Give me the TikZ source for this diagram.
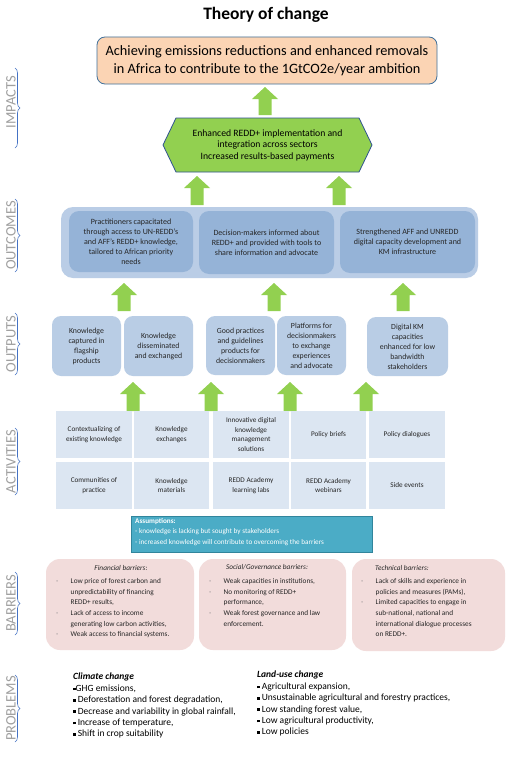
\documentclass[tikz,border=0pt]{standalone}
\usepackage{fontspec}
\setmainfont{Carlito}
\usetikzlibrary{decorations.pathreplacing}
\definecolor{peach}{HTML}{FBD4B4}
\definecolor{impborder}{HTML}{41719C}
\definecolor{hexgreen}{HTML}{92D050}
\definecolor{hexborder}{HTML}{2F528F}
\definecolor{arrgreen}{HTML}{92D050}
\definecolor{outcol}{HTML}{BACDE6}
\definecolor{outin}{HTML}{95B3D7}
\definecolor{outputcol}{HTML}{B9CDE5}
\definecolor{actcol}{HTML}{DCE6F2}
\definecolor{asscol}{HTML}{4BACC6}
\definecolor{assborder}{HTML}{31859C}
\definecolor{barcol}{HTML}{F2DCDB}
\definecolor{labgray}{HTML}{A0A0A0}
\definecolor{braceblue}{HTML}{4472C4}
\definecolor{txt}{HTML}{262626}
\definecolor{dashgray}{HTML}{808080}
\newcommand\garrow[3]{%
  \fill[arrgreen] (#1-6.5,#3) -- (#1-6.5,#2+12) -- (#1-13,#2+12) -- (#1,#2) -- (#1+13,#2+12) -- (#1+6.5,#2+12) -- (#1+6.5,#3) -- cycle;}
\newcommand\bl[1]{\makebox[14.5pt][l]{\textcolor{dashgray}{-}}#1}
\newcommand\cl[1]{\hspace*{14.5pt}#1}
\newcommand\sqb{\raisebox{0.25ex}{\rule{2.5pt}{2.5pt}}}
\begin{document}
\begin{tikzpicture}[x=1pt,y=-1pt]
\tikzset{
  impactbox/.style={draw=impborder, fill=peach, rounded corners=8pt, line width=0.8pt, align=center, text=black, font=\fontsize{14.3}{18}\selectfont, inner sep=0pt},
  outerbox/.style={fill=outcol, rounded corners=12pt, inner sep=0pt},
  outcomebox/.style={fill=outin, rounded corners=10pt, align=center, text=txt, font=\fontsize{8}{10}\selectfont, inner sep=0pt},
  outputbox/.style={fill=outputcol, rounded corners=9pt, align=center, text=txt, font=\fontsize{7.8}{10}\selectfont, inner sep=0pt},
  actbox/.style={fill=actcol, align=center, text=txt, font=\fontsize{7.2}{9.6}\selectfont, inner sep=0pt},
  barbox/.style={fill=barcol, rounded corners=14pt, inner sep=0pt},
  bartext/.style={align=left, text=txt, font=\fontsize{7.3}{10.6}\selectfont, inner sep=0pt, anchor=north west},
  barhead/.style={text=txt, font=\fontsize{7.3}{10.6}\selectfont\itshape, inner sep=0pt},
  probtext/.style={align=left, text=black, font=\fontsize{9.5}{11.4}\selectfont, inner sep=0pt, anchor=north west},
  lab/.style={text=labgray, font=\fontsize{14.5}{14.5}\selectfont, rotate=90, inner sep=0pt},
  brc/.style={draw=braceblue, decorate, decoration={brace, amplitude=5pt}, line width=0.6pt},
}
\useasboundingbox (0,0) rectangle (512,768);
\fill[white] (0,0) rectangle (512,768);

% title
\node[font=\fontsize{17.5}{19}\selectfont\bfseries] (title) at (266,15) {Theory of change};

% impact
\node[impactbox, minimum width=340, minimum height=47] (impact) at (267,60.5)
  {Achieving emissions reductions and enhanced removals\\in Africa to contribute to the 1GtCO2e/year ambition};
\garrow{265}{87}{115}

% hexagon
\draw[fill=hexgreen, draw=hexborder, line width=0.8pt]
  (163,145) -- (176,118) -- (359,118) -- (372,145) -- (359,172) -- (176,172) -- cycle;
\node[align=center, text=black, font=\fontsize{9.7}{11.5}\selectfont] (hex) at (267.5,145)
  {Enhanced REDD+ implementation and\\integration across sectors\\Increased results-based payments};
\garrow{197}{176}{205}
\garrow{339}{176}{205}

% outcomes
\node[outerbox, minimum width=417, minimum height=71] (outcomes) at (269.5,242.5) {};
\node[outcomebox, minimum width=124, minimum height=61] (oc1) at (131,241.5)
  {Practitioners capacitated\\through access to UN-REDD’s\\and AFF’s REDD+ knowledge,\\tailored to African priority\\needs};
\node[outcomebox, minimum width=135, minimum height=63] (oc2) at (266.5,242.5)
  {Decision-makers informed about\\REDD+ and provided with tools to\\share information and advocate};
\node[outcomebox, minimum width=135, minimum height=62] (oc3) at (407.5,242)
  {Strengthened AFF and UNREDD\\digital capacity development and\\KM infrastructure};
\garrow{124}{283}{311}
\garrow{274}{283}{311}
\garrow{403}{283}{311}

% outputs
\node[outputbox, minimum width=69, minimum height=60] (op1) at (86.5,346) {Knowledge\\captured in\\flagship\\products};
\node[outputbox, minimum width=69, minimum height=60] (op2) at (158.5,346) {Knowledge\\disseminated\\and exchanged};
\node[outputbox, minimum width=69, minimum height=59] (op3) at (240.5,345.5) {Good practices\\and guidelines\\products for\\decisionmakers};
\node[outputbox, minimum width=69, minimum height=59] (op4) at (311.5,345.5) {Platforms for\\decisionmakers\\to exchange\\experiences\\and advocate};
\node[outputbox, minimum width=81, minimum height=59] (op5) at (407.5,346.5) {Digital KM\\capacities\\enhanced for low\\bandwidth\\stakeholders};
\garrow{133}{382}{411}
\garrow{211}{382}{411}
\garrow{290}{382}{411}
\garrow{366}{382}{411}

% activities
\node[actbox, minimum width=76, minimum height=47] (a11) at (94,434.5) {Contextualizing of\\existing knowledge};
\node[actbox, minimum width=75, minimum height=47] (a12) at (171.5,434.5) {Knowledge\\exchanges};
\node[actbox, minimum width=76, minimum height=47] (a13) at (251,434.5) {Innovative digital\\knowledge\\management\\solutions};
\node[actbox, minimum width=75, minimum height=48] (a14) at (328.5,435) {Policy briefs};
\node[actbox, minimum width=76, minimum height=47] (a15) at (407,434.5) {Policy dialogues};
\node[actbox, minimum width=76, minimum height=47] (a21) at (94,485.5) {Communities of\\practice};
\node[actbox, minimum width=75, minimum height=47] (a22) at (171.5,485.5) {Knowledge\\materials};
\node[actbox, minimum width=76, minimum height=47] (a23) at (251,485.5) {REDD Academy\\learning labs};
\node[actbox, minimum width=75, minimum height=47] (a24) at (328.5,485.5) {REDD Academy\\webinars};
\node[actbox, minimum width=76, minimum height=47] (a25) at (407,485.5) {Side events};

% assumptions
\node[fill=asscol, draw=assborder, line width=0.8pt, minimum width=241, minimum height=36, inner sep=0pt] (assume) at (251.5,534) {};
\node[align=left, text=white, font=\fontsize{7.2}{10.5}\selectfont, inner sep=0pt, anchor=north west] (asstext) at (135,518)
  {\textbf{Assumptions:}\\- knowledge is lacking but sought by stakeholders\\- increased knowledge will contribute to overcoming the barriers};

% barriers
\node[barbox, minimum width=148, minimum height=91] (b1) at (120,604.5) {};
\node[barbox, minimum width=147, minimum height=91] (b2) at (272.5,604.5) {};
\node[barbox, minimum width=153, minimum height=92] (b3) at (428.5,605) {};
\node[barhead] (b1h) at (121,567.5) {Financial barriers:};
\node[barhead] (b2h) at (267,567.5) {Social/Governance barriers:};
\node[barhead] (b3h) at (402,567.5) {Technical barriers:};
\node[bartext] (b1t) at (56,578.5)
  {\bl{Low price of forest carbon and}\\\cl{unpredictability of financing}\\\cl{REDD+ results,}\\\bl{Lack of access to income}\\\cl{generating low carbon activities,}\\\bl{Weak access to financial systems.}};
\node[bartext] (b2t) at (209,578.5)
  {\bl{Weak capacities in institutions,}\\\bl{No monitoring of REDD+}\\\cl{performance,}\\\bl{Weak forest governance and law}\\\cl{enforcement.}};
\node[bartext] (b3t) at (361,578.5)
  {\bl{Lack of skills and experience in}\\\cl{policies and measures (PAMs),}\\\bl{Limited capacities to engage in}\\\cl{sub-national, national and}\\\cl{international dialogue processes}\\\cl{on REDD+.}};

% problems
\node[probtext] (p1) at (73,673)
  {\textbf{\textit{Climate change}}\\\sqb GHG emissions,\\\sqb{} Deforestation and forest degradation,\\\sqb{} Decrease and variability in global rainfall,\\\sqb{} Increase of temperature,\\\sqb{} Shift in crop suitability};
\node[probtext] (p2) at (257,671)
  {\textbf{\textit{Land-use change}}\\\sqb{} Agricultural expansion,\\\sqb{} Unsustainable agricultural and forestry practices,\\\sqb{} Low standing forest value,\\\sqb{} Low agricultural productivity,\\\sqb{} Low policies};

% side labels
\node[lab] (limp) at (11,102) {IMPACTS};
\node[lab] (lout) at (11,235.5) {OUTCOMES};
\node[lab] (lop) at (11,344) {OUTPUTS};
\node[lab] (lact) at (11,461.5) {ACTIVITIES};
\node[lab] (lbar) at (11,603.5) {BARRIERS};
\node[lab] (lprob) at (11,708.5) {PROBLEMS};
\draw[brc] (15,68) -- (15,148);
\draw[brc] (15,199) -- (15,272);
\draw[brc] (15,313) -- (15,375);
\draw[brc] (15,428) -- (15,495);
\draw[brc] (15,572) -- (15,635);
\draw[brc] (15,675) -- (15,742);
\end{tikzpicture}
\end{document}
